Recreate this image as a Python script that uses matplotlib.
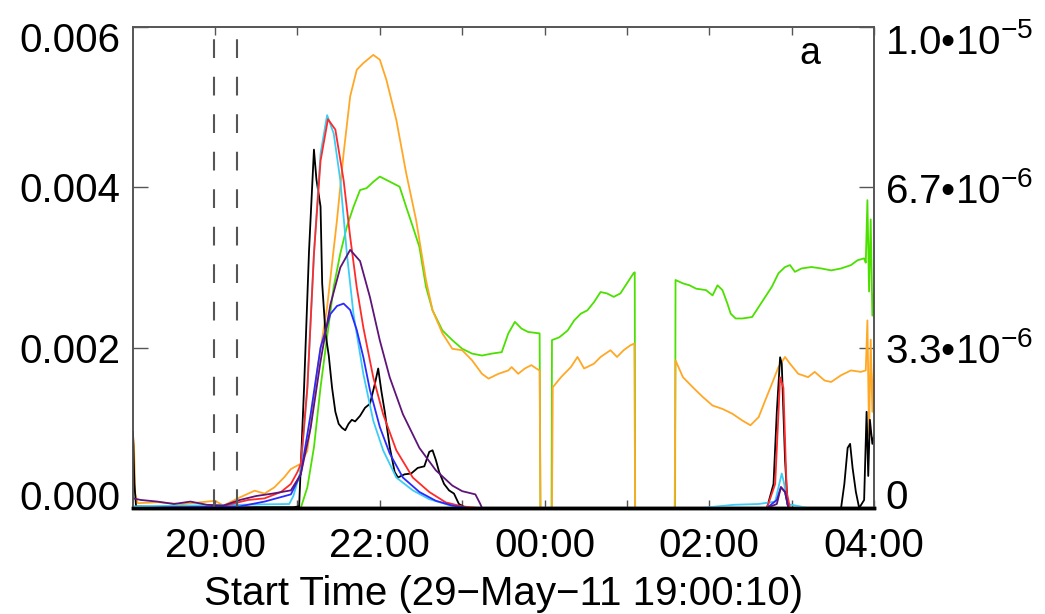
import matplotlib
matplotlib.use("Agg")
import matplotlib.pyplot as plt
from matplotlib.transforms import ScaledTranslation

plt.rcParams['font.family'] = ['Liberation Sans', 'DejaVu Sans']
plt.rcParams['mathtext.fontset'] = 'custom'
plt.rcParams['mathtext.rm'] = 'Liberation Sans'
plt.rcParams['mathtext.it'] = 'Liberation Sans:italic'
plt.rcParams['mathtext.bf'] = 'Liberation Sans:bold'

# time in hours after 19:00 (29-May-11)
hour_ticks = [1, 2, 3, 4, 5, 6, 7, 8, 9]
hour_labels = ['20:00', '', '22:00', '', '00:00', '', '02:00', '', '04:00']
marker_lines = [0.99, 1.27]

left_ticks = [0.0, 0.002, 0.004, 0.006]
left_labels = ['0.000', '0.002', '0.004', '0.006']
right_ticks = [0.0, 3.333e-6, 6.667e-6, 1.0e-5]
right_labels = ['0', r'3.3•10$^{-6}$', r'6.7•10$^{-6}$', r'1.0•10$^{-5}$']

# left axis series (units of 1e-3)
t_black = [0.003, 0.02, 0.04, 0.5, 1.0, 1.5, 1.95, 2.02, 2.08, 2.14, 2.2, 2.23, 2.28, 2.30,
           2.34, 2.38, 2.42, 2.46, 2.5, 2.54, 2.58, 2.62, 2.66, 2.7, 2.76, 2.82, 2.88, 2.94,
           2.98, 3.02, 3.06, 3.12, 3.18, 3.22, 3.3, 3.38, 3.46, 3.54, 3.6, 3.64, 3.68, 3.72,
           3.78, 3.84, 3.9, 3.96, 4.05, 5.0, 7.7, 7.78, 7.82, 7.86, 7.88, 7.92, 7.95, 7.97,
           8.6, 8.64, 8.68, 8.71, 8.74, 8.78, 8.82, 8.88, 8.91, 8.93, 8.95, 8.98, 9.0]
v_black = [0.95, 0.3, 0.02, 0.01, 0.0, 0.01, 0.01, 0.02, 1.5, 3.2, 4.47, 4.1, 3.76, 2.8,
           2.18, 1.9, 1.5, 1.2, 1.05, 1.0, 0.97, 1.05, 1.1, 1.08, 1.15, 1.25, 1.3, 1.55,
           1.74, 1.45, 1.2, 0.76, 0.45, 0.38, 0.42, 0.43, 0.5, 0.52, 0.7, 0.72, 0.6, 0.45,
           0.3, 0.22, 0.18, 0.05, 0.0, 0.0, 0.0, 0.3, 1.2, 1.88, 1.8, 0.6, 0.05, 0.0,
           0.0, 0.3, 0.75, 0.8, 0.5, 0.2, 0.0, 0.1, 1.2, 0.4, 1.1, 0.8, 0.9]

t_cyan = [0.003, 1.9, 1.95, 2.04, 2.12, 2.2, 2.28, 2.36, 2.44, 2.52, 2.6, 2.68, 2.8, 2.92,
          3.04, 3.2, 3.4, 3.6, 3.8, 3.95, 6.9, 7.3, 7.6, 7.8, 7.85, 7.88, 7.91, 7.95, 8.2, 9.0]
v_cyan = [0.02, 0.05, 0.15, 0.47, 1.5, 3.17, 4.42, 4.9, 4.67, 4.09, 3.17, 2.42, 1.67, 1.09,
          0.72, 0.38, 0.22, 0.11, 0.05, 0.0, 0.0, 0.04, 0.05, 0.08, 0.3, 0.43, 0.3, 0.05, 0.0, 0.0]

t_red = [0.003, 1.0, 1.2, 1.4, 1.6, 1.8, 1.92, 2.0, 2.04, 2.12, 2.2, 2.28, 2.37, 2.46, 2.56,
         2.64, 2.72, 2.8, 2.92, 3.04, 3.2, 3.4, 3.6, 3.8, 4.0, 4.2, 7.7, 7.8, 7.86, 7.9,
         7.94, 7.98, 9.0]
v_red = [0.0, 0.0, 0.05, 0.1, 0.12, 0.2, 0.3, 0.45, 0.55, 1.5, 3.17, 4.33, 4.85, 4.72, 4.09,
         3.38, 2.75, 2.25, 1.63, 1.17, 0.72, 0.38, 0.2, 0.07, 0.02, 0.0, 0.0, 0.3, 1.63, 1.5,
         0.2, 0.0, 0.0]

t_blue = [0.003, 1.3, 1.6, 1.92, 2.04, 2.16, 2.28, 2.4, 2.48, 2.56, 2.64, 2.72, 2.8, 2.88,
          3.0, 3.12, 3.28, 3.48, 3.68, 3.88, 4.08, 7.7, 7.82, 7.87, 7.92, 7.96, 9.0]
v_blue = [0.0, 0.02, 0.08, 0.17, 0.42, 1.17, 2.0, 2.42, 2.52, 2.55, 2.47, 2.22, 1.88, 1.47,
          1.01, 0.68, 0.38, 0.2, 0.09, 0.03, 0.0, 0.0, 0.1, 0.26, 0.2, 0.0, 0.0]

t_purple = [0.003, 0.1, 0.3, 0.5, 0.7, 0.9, 1.1, 1.3, 1.5, 1.7, 1.92, 2.04, 2.16, 2.28, 2.4,
            2.52, 2.64, 2.76, 2.88, 3.0, 3.12, 3.28, 3.48, 3.68, 3.88, 4.0, 4.16, 4.22, 4.24,
            7.7, 7.82, 7.87, 7.92, 7.96, 9.0]
v_purple = [0.12, 0.1, 0.08, 0.05, 0.08, 0.04, 0.03, 0.1, 0.15, 0.18, 0.22, 0.42, 1.0, 1.83,
            2.54, 3.0, 3.22, 3.08, 2.63, 2.09, 1.63, 1.17, 0.75, 0.47, 0.28, 0.21, 0.17, 0.05,
            0.0, 0.0, 0.05, 0.26, 0.2, 0.0, 0.0]

# right axis series (units of 1e-6)
t_orange = [0.003, 0.015, 0.03, 0.06, 0.3, 0.6, 1.0, 1.1, 1.3, 1.48, 1.6, 1.72, 1.84, 1.92,
            2.04, 2.12, 2.24, 2.36, 2.48, 2.56, 2.64, 2.72, 2.8, 2.92, 3.0, 3.08, 3.2, 3.32,
            3.44, 3.56, 3.64, 3.76, 3.88, 4.0, 4.12, 4.24, 4.32, 4.44, 4.56, 4.6, 4.68, 4.76,
            4.84, 4.9, 4.94, 4.95, 5.09, 5.10, 5.2, 5.32, 5.4, 5.48, 5.6, 5.68, 5.8, 5.88,
            5.96, 6.04, 6.09, 6.10, 6.58, 6.59, 6.68, 6.8, 6.92, 7.04, 7.16, 7.28, 7.4, 7.5,
            7.6, 7.68, 7.76, 7.84, 7.92, 7.98, 8.08, 8.2, 8.28, 8.4, 8.48, 8.6, 8.72, 8.84,
            8.9, 8.92, 8.94, 8.96, 8.98, 9.0]
v_orange = [1.47, 1.3, 0.3, 0.1, 0.12, 0.08, 0.15, 0.05, 0.22, 0.36, 0.3, 0.43, 0.64, 0.81,
            0.92, 1.19, 2.86, 4.18, 5.99, 7.37, 8.56, 9.11, 9.25, 9.42, 9.32, 8.9, 8.07, 6.96,
            5.99, 4.74, 4.11, 3.63, 3.31, 3.28, 3.07, 2.79, 2.69, 2.79, 2.86, 2.93, 2.79, 2.9,
            2.97, 2.9, 2.86, 0.0, 0.0, 2.51, 2.72, 2.93, 3.14, 2.9, 3.0, 3.14, 3.28, 3.14,
            3.28, 3.38, 3.42, 0.0, 0.0, 3.07, 2.72, 2.51, 2.31, 2.13, 2.06, 1.96, 1.82, 1.72,
            1.89, 2.24, 2.58, 2.93, 3.14, 3.0, 2.79, 2.72, 2.83, 2.65, 2.62, 2.76, 2.86, 2.83,
            2.86, 3.9, 1.5, 3.5, 2.0, 3.0]

t_green = [0.003, 2.04, 2.12, 2.2, 2.28, 2.36, 2.44, 2.52, 2.6, 2.68, 2.76, 2.84, 2.92, 3.0,
           3.08, 3.16, 3.24, 3.32, 3.4, 3.48, 3.56, 3.64, 3.76, 3.88, 4.0, 4.12, 4.24, 4.36,
           4.48, 4.56, 4.64, 4.72, 4.8, 4.94, 4.95, 5.085, 5.09, 5.18, 5.28, 5.36, 5.44, 5.52,
           5.6, 5.68, 5.76, 5.84, 5.92, 6.0, 6.08, 6.095, 6.10, 6.585, 6.59, 6.68, 6.76, 6.84,
           6.96, 7.04, 7.1, 7.16, 7.22, 7.26, 7.32, 7.4, 7.52, 7.6, 7.68, 7.76, 7.84, 7.92,
           7.98, 8.04, 8.12, 8.24, 8.36, 8.48, 8.6, 8.72, 8.8, 8.88, 8.9, 8.92, 8.94, 8.96,
           8.98, 9.0]
v_green = [0.0, 0.0, 0.43, 1.26, 2.51, 3.56, 4.6, 5.29, 5.85, 6.26, 6.61, 6.65, 6.78, 6.89,
           6.82, 6.75, 6.68, 6.26, 5.85, 5.43, 4.6, 4.11, 3.69, 3.49, 3.31, 3.21, 3.17, 3.21,
           3.24, 3.63, 3.87, 3.73, 3.66, 3.63, 0.0, 0.0, 3.49, 3.55, 3.69, 3.9, 4.04, 4.11,
           4.28, 4.49, 4.46, 4.39, 4.46, 4.67, 4.88, 4.9, 0.0, 0.0, 4.74, 4.67, 4.63, 4.56,
           4.53, 4.42, 4.63, 4.53, 4.25, 4.04, 3.94, 3.94, 3.97, 4.18, 4.39, 4.6, 4.88, 5.01,
           5.05, 4.91, 4.98, 5.01, 4.98, 4.94, 4.98, 5.05, 5.15, 5.19, 5.1, 6.4, 4.5, 6.0,
           4.0, 4.5]

fig = plt.figure(figsize=(10.45, 6.14), dpi=100)
ax = fig.add_axes([133 / 1045, 1 - 508 / 614, 741 / 1045, 481 / 614])
ax2 = ax.twinx()
ax.set_zorder(ax2.get_zorder() + 1)
ax.patch.set_visible(False)

lw = 1.3
ax2.plot(t_green, [v * 1e-6 for v in v_green], color='#4ce000', lw=lw)
ax2.plot(t_orange, [v * 1e-6 for v in v_orange], color='#ffa826', lw=lw)

ax.plot(t_black, [v * 1e-3 for v in v_black], color='black', lw=lw)
ax.plot(t_cyan, [v * 1e-3 for v in v_cyan], color='#3ccdf5', lw=lw)
ax.plot(t_red, [v * 1e-3 for v in v_red], color='#ff2a2a', lw=lw)
ax.plot(t_blue, [v * 1e-3 for v in v_blue], color='#2a2aff', lw=lw)
ax.plot(t_purple, [v * 1e-3 for v in v_purple], color='#5e1478', lw=lw)

for xv in marker_lines:
    ax.axvline(xv, color='#555555', lw=1.5, dashes=(9, 9))

ax.set_xlim(0.003, 9.0)
ax.set_ylim(0, 0.006)
ax2.set_ylim(0, 1.0e-5)

ax.set_xticks(hour_ticks)
ax.set_xticklabels(hour_labels)
ax.set_yticks(left_ticks)
ax.set_yticklabels(left_labels)
ax2.set_yticks(right_ticks)
ax2.set_yticklabels(right_labels)

ax.tick_params(axis='x', direction='in', length=6, width=1, color='#555555',
               top=True, labelsize=29, pad=14)
ax.tick_params(axis='y', direction='in', length=11, width=1, color='#555555',
               labelsize=29, pad=9)
ax2.tick_params(axis='y', direction='in', length=11, width=1, color='#555555',
                labelsize=29, pad=8)

for a in (ax, ax2):
    for side in ('left', 'right', 'top'):
        a.spines[side].set_color('#555555')
        a.spines[side].set_linewidth(1.2)
    a.spines['bottom'].set_color('black')
    a.spines['bottom'].set_linewidth(2.5)

ax.set_xlabel('Start Time (29\u2212May\u221211 19:00:10)', fontsize=29, labelpad=7)
ax.text(0.914, 0.944, 'a', transform=ax.transAxes, fontsize=27, ha='center', va='center')

# pull end labels inward like the original
def shift(label, dy):
    label.set_transform(label.get_transform() + ScaledTranslation(0, dy / 100, fig.dpi_scale_trans))

lt = ax.yaxis.get_major_ticks()
shift(lt[0].label1, 13)
shift(lt[-1].label1, -10)
rt = ax2.yaxis.get_major_ticks()
shift(rt[0].label2, 14)
shift(rt[-1].label2, -12)

fig.savefig('out.png', dpi=100)
